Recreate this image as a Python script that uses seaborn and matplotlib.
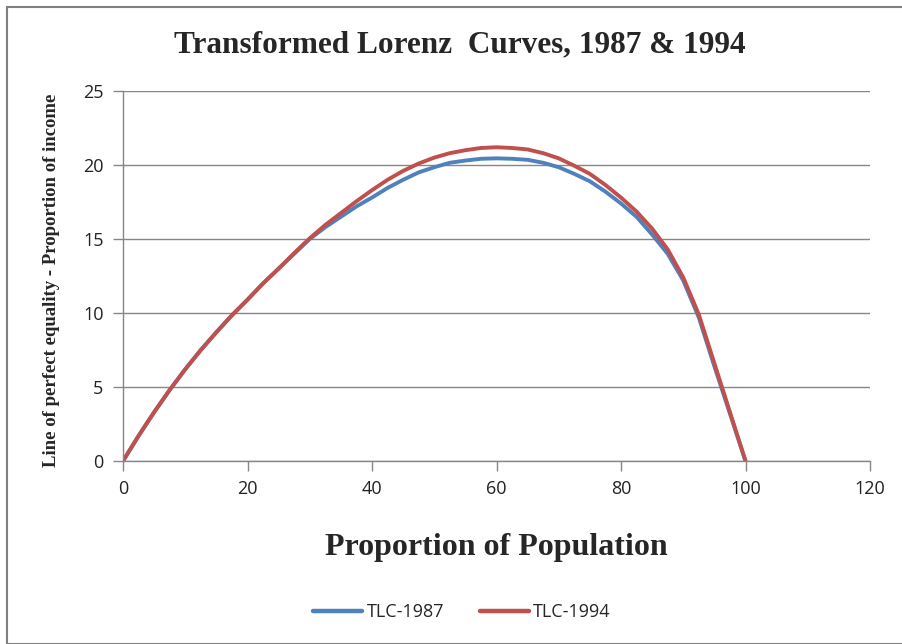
import matplotlib
matplotlib.use("Agg")
import matplotlib.pyplot as plt
import seaborn as sns
import pandas as pd
from matplotlib.patches import Rectangle

# ---- data ----
population = [0, 2.5, 5, 7.5, 10, 12.5, 15, 17.5, 20, 22.5, 25, 27.5, 30, 32.5, 35, 37.5,
              40, 42.5, 45, 47.5, 50, 52.5, 55, 57.5, 60, 62.5, 65, 67.5, 70, 72.5, 75,
              77.5, 80, 82.5, 85, 87.5, 90, 92.5, 95, 97.5, 100]
tlc_1987 = [0, 1.7, 3.3, 4.8, 6.2, 7.5, 8.7, 9.85, 10.9, 12.0, 13.0, 14.0, 15.0, 15.8,
            16.5, 17.2, 17.8, 18.45, 19.0, 19.5, 19.85, 20.15, 20.3, 20.42, 20.45, 20.42,
            20.35, 20.15, 19.85, 19.4, 18.9, 18.2, 17.4, 16.5, 15.3, 14.0, 12.2, 9.7,
            6.4, 3.2, 0]
tlc_1994 = [0, 1.7, 3.3, 4.8, 6.2, 7.5, 8.7, 9.85, 10.9, 12.0, 13.0, 14.05, 15.05, 15.95,
            16.75, 17.55, 18.3, 19.0, 19.6, 20.1, 20.5, 20.8, 21.0, 21.15, 21.2, 21.15,
            21.05, 20.8, 20.45, 19.95, 19.4, 18.65, 17.8, 16.85, 15.7, 14.3, 12.4, 9.9,
            6.6, 3.3, 0]
series_names = ["TLC-1987", "TLC-1994"]
x_ticks = [0, 20, 40, 60, 80, 100, 120]
y_ticks = [0, 5, 10, 15, 20, 25]

df = pd.concat([
    pd.DataFrame({"x": population, "y": tlc_1987, "series": series_names[0]}),
    pd.DataFrame({"x": population, "y": tlc_1994, "series": series_names[1]}),
])

sns.set_theme(style="white")
plt.rcParams["font.family"] = ["Open Sans", "DejaVu Sans"]
plt.rcParams["lines.solid_joinstyle"] = "round"
plt.rcParams["lines.solid_capstyle"] = "round"

fig = plt.figure(figsize=(9.02, 6.44), dpi=100)
ax = fig.add_axes([123/902, 1-461/644, (870-123)/902, (461-91)/644])

palette = {"TLC-1987": "#4F81BD", "TLC-1994": "#C0504D"}
sns.lineplot(data=df, x="x", y="y", hue="series", palette=palette, ax=ax,
             linewidth=2.8, sort=False, legend=True)

ax.set_xlim(0, 120)
ax.set_ylim(0, 25)
ax.set_xticks(x_ticks)
ax.set_yticks(y_ticks)
ax.tick_params(axis="both", which="major", bottom=True, left=True, direction="out",
               length=7, width=1, color="#868686", labelsize=13, labelcolor="#222222", pad=7)
ax.grid(axis="y", color="#868686", linewidth=1)
ax.set_axisbelow(True)
for s in ["top", "right"]:
    ax.spines[s].set_visible(False)
for s in ["left", "bottom"]:
    ax.spines[s].set_color("#868686")
    ax.spines[s].set_linewidth(1)

ax.set_xlabel("")
ax.set_ylabel("")

serif = ["Liberation Serif", "DejaVu Serif"]
fig.text(460/902, 1-45/644, "Transformed Lorenz  Curves, 1987 & 1994", ha="center", va="center",
         fontsize=22.5, fontweight="bold", family=serif)
fig.text(496/902, 1-548/644, "Proportion of Population", ha="center", va="center",
         fontsize=23, fontweight="bold", family=serif)
fig.text(52/902, 1-280/644, "Line of perfect equality - Proportion of income", ha="center",
         va="center", rotation=90, fontsize=13.5, fontweight="bold", family=serif)

leg = ax.legend(loc="center", bbox_to_anchor=(462/902, 1-612/644), bbox_transform=fig.transFigure,
                ncol=2, frameon=False, fontsize=13, handlelength=2.7, columnspacing=2.0,
                handletextpad=0.25)
for h in leg.get_lines():
    h.set_linewidth(3.2)

fig.patches.append(Rectangle((7/902, 0), 1.0, 1-7/644, transform=fig.transFigure,
                             fill=False, edgecolor="#808080", linewidth=1.5))

fig.savefig("out.png", dpi=100)
